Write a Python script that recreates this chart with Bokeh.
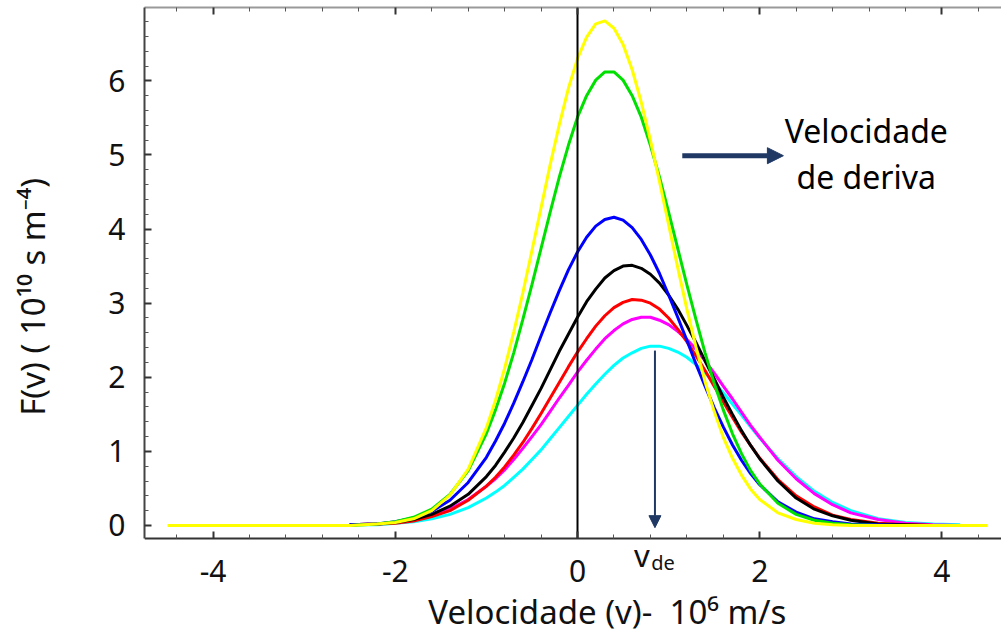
from bokeh.plotting import figure
from bokeh.models import LinearAxis, FixedTicker, Arrow, NormalHead, Label, Range1d
from bokeh.embed import file_html
from bokeh.resources import INLINE

# velocity samples (10^6 m/s) shared by the distribution curves
v_grid = [-2.5, -2.2, -2.0, -1.8, -1.6, -1.4, -1.2, -1.0, -0.9, -0.8, -0.7, -0.6, -0.5, -0.4,
          -0.3, -0.2, -0.1, 0.0, 0.1, 0.2, 0.3, 0.4, 0.5, 0.6, 0.7, 0.8, 0.9, 1.0, 1.1, 1.2,
          1.3, 1.4, 1.5, 1.6, 1.7, 1.8, 1.9, 2.0, 2.2, 2.4, 2.6, 2.8, 3.0, 3.3, 3.6, 3.9, 4.2]

# F(v) in 10^10 s m^-4
f_yellow = [0.00, 0.02, 0.04, 0.09, 0.20, 0.41, 0.76, 1.32, 1.69, 2.12, 2.61, 3.14, 3.71, 4.29,
            4.87, 5.41, 5.90, 6.30, 6.59, 6.77, 6.81, 6.71, 6.49, 6.15, 5.71, 5.20, 4.64, 4.06,
            3.48, 2.92, 2.41, 1.94, 1.54, 1.19, 0.91, 0.68, 0.49, 0.35, 0.17, 0.08, 0.03, 0.01,
            0.00, 0.00, 0.00, 0.00, 0.00]
f_green = [0.00, 0.02, 0.05, 0.11, 0.22, 0.42, 0.74, 1.24, 1.56, 1.92, 2.33, 2.78, 3.25, 3.74,
           4.23, 4.70, 5.13, 5.51, 5.80, 6.01, 6.12, 6.12, 6.01, 5.80, 5.51, 5.13, 4.70, 4.23,
           3.74, 3.25, 2.78, 2.33, 1.92, 1.56, 1.24, 0.97, 0.74, 0.56, 0.30, 0.15, 0.07, 0.03,
           0.01, 0.00, 0.00, 0.00, 0.00]
f_blue = [0.01, 0.02, 0.05, 0.10, 0.19, 0.34, 0.58, 0.92, 1.14, 1.38, 1.65, 1.94, 2.24, 2.56,
          2.87, 3.17, 3.45, 3.69, 3.89, 4.04, 4.13, 4.16, 4.12, 4.02, 3.86, 3.65, 3.40, 3.11,
          2.81, 2.50, 2.18, 1.88, 1.59, 1.33, 1.09, 0.88, 0.70, 0.55, 0.32, 0.18, 0.09, 0.05,
          0.02, 0.01, 0.00, 0.00, 0.00]
f_black = [0.01, 0.02, 0.04, 0.08, 0.15, 0.26, 0.42, 0.66, 0.81, 0.99, 1.18, 1.39, 1.62, 1.85,
           2.10, 2.35, 2.58, 2.81, 3.02, 3.19, 3.34, 3.44, 3.50, 3.51, 3.47, 3.39, 3.27, 3.11,
           2.92, 2.70, 2.47, 2.22, 1.98, 1.73, 1.50, 1.28, 1.08, 0.90, 0.60, 0.37, 0.22, 0.13,
           0.07, 0.02, 0.01, 0.00, 0.00]
f_red = [0.01, 0.02, 0.03, 0.06, 0.12, 0.20, 0.34, 0.53, 0.65, 0.79, 0.95, 1.12, 1.31, 1.51,
         1.72, 1.93, 2.14, 2.34, 2.52, 2.69, 2.83, 2.94, 3.01, 3.05, 3.04, 3.00, 2.92, 2.80,
         2.65, 2.48, 2.29, 2.09, 1.88, 1.67, 1.46, 1.26, 1.08, 0.91, 0.62, 0.40, 0.25, 0.14,
         0.08, 0.03, 0.01, 0.00, 0.00]
f_magenta = [0.01, 0.02, 0.04, 0.08, 0.14, 0.22, 0.35, 0.53, 0.63, 0.75, 0.89, 1.04, 1.20, 1.36,
             1.54, 1.72, 1.89, 2.07, 2.23, 2.38, 2.52, 2.63, 2.72, 2.78, 2.81, 2.81, 2.77, 2.71,
             2.62, 2.51, 2.38, 2.22, 2.06, 1.88, 1.71, 1.53, 1.35, 1.19, 0.88, 0.63, 0.43, 0.28,
             0.17, 0.08, 0.03, 0.01, 0.00]
f_cyan = [0.01, 0.01, 0.03, 0.05, 0.09, 0.15, 0.24, 0.37, 0.45, 0.54, 0.65, 0.76, 0.89, 1.02,
          1.17, 1.32, 1.47, 1.62, 1.77, 1.91, 2.04, 2.16, 2.26, 2.33, 2.39, 2.42, 2.42, 2.39,
          2.34, 2.27, 2.17, 2.06, 1.93, 1.79, 1.64, 1.49, 1.33, 1.18, 0.90, 0.66, 0.46, 0.31,
          0.20, 0.09, 0.04, 0.02, 0.01]

# the yellow distribution is drawn across the whole velocity span
v_yellow = [-4.5] + v_grid + [4.5]
f_yellow_full = [0.0] + f_yellow + [0.0]

series = [
    (v_grid, f_cyan, "#00FFFF"),
    (v_grid, f_magenta, "#FF00FF"),
    (v_grid, f_red, "#FF0000"),
    (v_grid, f_black, "#000000"),
    (v_grid, f_blue, "#0000FF"),
    (v_grid, f_green, "#00E000"),
    (v_yellow, f_yellow_full, "#FFFF00"),
]

x_major = [-4, -2, 0, 2, 4]
x_labels = ["-4", "-2", "0", "2", "4"]
x_minor = [-4.4, -3.6, -3.2, -2.8, -2.4, -1.6, -1.2, -0.8, -0.4, 0.4, 0.8, 1.2, 1.6,
           2.4, 2.8, 3.2, 3.6, 4.4]
y_major = [0, 1, 2, 3, 4, 5, 6]
y_minor = [round(0.2 * i, 1) for i in range(35) if i % 5 != 0]

# extent of the boxed axes
X_LO, X_HI = -4.753, 4.654
Y_LO, Y_HI = -0.175, 6.99

drift_v = 0.85      # drift velocity marked on the axis
drift_peak = 2.36

FONT = "Noto Sans"
NAVY = "#1F3864"
NB = "\u00a0"

# the frame reaches the bottom of the canvas so the text under the axis can be placed freely;
# the horizontal axis is pinned at Y_LO
p = figure(width=1001, height=637,
           x_range=Range1d(X_LO, X_HI), y_range=Range1d(-1.512, Y_HI),
           output_backend="svg", toolbar_location=None,
           x_axis_location=None, y_axis_location=None,
           min_border_left=144, min_border_right=0, min_border_top=7, min_border_bottom=0)
p.outline_line_color = None
p.background_fill_color = "white"
p.border_fill_color = "white"
p.xgrid.grid_line_color = None
p.ygrid.grid_line_color = None

def style_axis(ax, line_color):
    ax.axis_line_color = line_color
    ax.axis_line_width = 2
    ax.major_tick_line_color = "#333333"
    ax.minor_tick_line_color = "#555555"
    ax.major_tick_line_width = 2
    ax.minor_tick_line_width = 1
    ax.major_tick_in = 7
    ax.major_tick_out = 0
    ax.minor_tick_in = 4
    ax.minor_tick_out = 0
    ax.major_label_text_font = FONT
    ax.major_label_text_font_size = "30px"
    ax.major_label_text_color = "#111111"
    ax.axis_label_text_font = FONT
    ax.axis_label_text_font_style = "normal"
    ax.axis_label_text_color = "#111111"

xaxis = LinearAxis(ticker=FixedTicker(ticks=x_major, minor_ticks=x_minor),
                   major_label_overrides=dict(zip(x_major, x_labels)),
                   fixed_location=Y_LO,
                   axis_label=NB * 8 + "Velocidade (v)-" + NB * 2 + "10\u2076 m/s")
style_axis(xaxis, "#333333")
xaxis.major_label_standoff = 22
xaxis.axis_label_text_font_size = "33px"
xaxis.axis_label_standoff = 3
p.add_layout(xaxis, "below")

topaxis = LinearAxis(ticker=FixedTicker(ticks=x_major, minor_ticks=x_minor),
                     major_label_overrides={t: "" for t in x_major})
style_axis(topaxis, "#999999")
topaxis.major_label_text_font_size = "1px"
topaxis.major_label_standoff = 0
p.add_layout(topaxis, "above")

yaxis = LinearAxis(ticker=FixedTicker(ticks=y_major, minor_ticks=y_minor),
                   bounds=(Y_LO, Y_HI),
                   axis_label=NB * 6 + "F(v) ( 10\u00b9\u2070 s m\u207b\u2074)")
style_axis(yaxis, "#444444")
yaxis.major_label_standoff = 19
yaxis.axis_label_text_font_size = "33px"
yaxis.axis_label_standoff = 50
p.add_layout(yaxis, "left")

for xs, ys, color in series:
    p.line(xs, ys, line_color=color, line_width=3)

# vertical reference line at v = 0
p.line([0, 0], [Y_LO, Y_HI], line_color="#000000", line_width=2)

# drift arrow and its caption
p.add_layout(Arrow(x_start=1.15, y_start=4.99, x_end=2.26, y_end=4.99,
                   line_color=NAVY, line_width=5,
                   end=NormalHead(size=16, fill_color=NAVY, line_color=NAVY)))
for text, y in [("Velocidade", 5.33), ("de deriva", 4.71)]:
    p.add_layout(Label(x=3.17, y=y, text=text, text_align="center", text_baseline="middle",
                       text_font=FONT, text_font_size="32px", text_color="#000000"))

# drift velocity marker, with its name written under the axis
p.add_layout(Arrow(x_start=drift_v, y_start=drift_peak, x_end=drift_v, y_end=-0.03,
                   line_color=NAVY, line_width=2,
                   end=NormalHead(size=12, fill_color=NAVY, line_color=NAVY)))
p.add_layout(Label(x=0.62, y=-0.40, text="v", text_align="left", text_baseline="alphabetic",
                   text_font=FONT, text_font_size="31px", text_color="#111111"))
p.add_layout(Label(x=0.81, y=-0.495, text="de", text_align="left", text_baseline="alphabetic",
                   text_font=FONT, text_font_size="20px", text_color="#111111"))

open("out.html", "w").write(file_html(p, INLINE))
